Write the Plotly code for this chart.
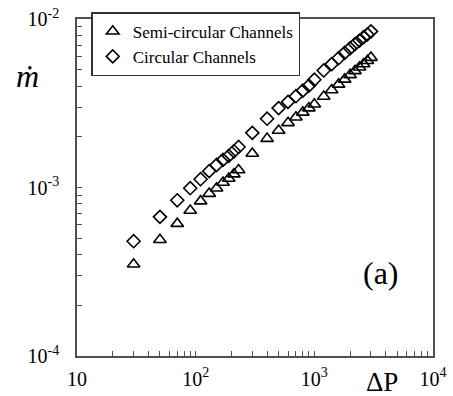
import plotly.graph_objects as go

# Pressure drop (x) shared by both series
dp = [30, 50, 70, 90, 110, 130, 150, 170, 190, 210, 230,
      300, 400, 500, 600, 700, 800, 900, 1000,
      1200, 1400, 1600, 1800, 2000, 2200, 2400, 2600, 2800, 3000]

semi_circular = [3.5e-4, 4.9e-4, 6.1e-4, 7.3e-4, 8.3e-4, 9.2e-4, 9.9e-4, 1.07e-3, 1.13e-3, 1.20e-3, 1.27e-3,
                 1.59e-3, 1.95e-3, 2.18e-3, 2.42e-3, 2.61e-3, 2.79e-3, 2.96e-3, 3.12e-3,
                 3.47e-3, 3.79e-3, 4.09e-3, 4.38e-3, 4.66e-3, 4.92e-3, 5.17e-3, 5.41e-3, 5.65e-3, 5.9e-3]

circular = [4.8e-4, 6.7e-4, 8.4e-4, 9.9e-4, 1.12e-3, 1.25e-3, 1.36e-3, 1.46e-3, 1.54e-3, 1.64e-3, 1.74e-3,
            2.11e-3, 2.56e-3, 2.96e-3, 3.22e-3, 3.48e-3, 3.76e-3, 4.02e-3, 4.36e-3,
            4.95e-3, 5.4e-3, 5.85e-3, 6.3e-3, 6.7e-3, 7.1e-3, 7.45e-3, 7.8e-3, 8.1e-3, 8.45e-3]

series_names = ["Semi-circular Channels", "Circular Channels"]

x_decades = [10, 100, 1000, 10000]
x_decade_labels = ["10", "10<sup>2</sup>", "10<sup>3</sup>", "10<sup>4</sup>"]
y_decades = [1e-4, 1e-3, 1e-2]
y_decade_labels = ["10<sup>-4</sup>", "10<sup>-3</sup>", "10<sup>-2</sup>"]

FONT = "Liberation Serif"
AXC = "#505050"


def log_ticks(decades, labels):
    vals, texts = [], []
    for i, d in enumerate(decades):
        vals.append(d)
        texts.append(labels[i])
        if i < len(decades) - 1:
            for k in range(2, 10):
                vals.append(d * k)
                texts.append("")
    return vals, texts


xv, xt = log_ticks(x_decades, x_decade_labels)
yv, yt = log_ticks(y_decades, y_decade_labels)

fig = go.Figure()
fig.add_trace(go.Scatter(
    x=dp, y=semi_circular, mode="markers", name=series_names[0],
    marker=dict(symbol="triangle-up-open", size=11, color="black", line=dict(width=1.6, color="black")),
))
fig.add_trace(go.Scatter(
    x=dp, y=circular, mode="markers", name=series_names[1],
    marker=dict(symbol="diamond-open", size=10, color="black", line=dict(width=1.6, color="black")),
))

fig.update_layout(
    width=453, height=396,
    margin=dict(l=77, r=20, t=16, b=40),
    paper_bgcolor="white", plot_bgcolor="white",
    font=dict(family=FONT, color="black", size=19),
    showlegend=True,
    legend=dict(
        x=0.04, y=1.02, xanchor="left", yanchor="top",
        bordercolor="#333333", borderwidth=1.5, bgcolor="white",
        font=dict(family=FONT, size=17, color="black"),
        itemwidth=30, tracegroupgap=0,
    ),
    xaxis=dict(
        type="log", range=[1, 4], automargin=False,
        tickmode="array", tickvals=xv, ticktext=xt,
        ticks="inside", ticklen=5, tickwidth=1.2, tickcolor=AXC,
        showline=True, linecolor=AXC, linewidth=1.5, mirror=True,
        showgrid=False, zeroline=False,
        ticklabelstandoff=4,
        tickfont=dict(family=FONT, size=20, color="black"),
    ),
    yaxis=dict(
        type="log", range=[-4, -2], automargin=False,
        tickmode="array", tickvals=yv, ticktext=yt,
        ticks="inside", ticklen=5, tickwidth=1.2, tickcolor=AXC,
        showline=True, linecolor=AXC, linewidth=1.5, mirror=True,
        showgrid=False, zeroline=False,
        ticklabelstandoff=12,
        tickfont=dict(family=FONT, size=20, color="black"),
    ),
    annotations=[
        dict(text="<i>ṁ</i>", xref="paper", yref="paper", x=-0.14, y=0.83,
             xanchor="center", yanchor="middle", showarrow=False,
             font=dict(family=FONT, size=32, color="black")),
        dict(text="ΔP", xref="paper", yref="paper", x=0.857, y=-0.076,
             xanchor="center", yanchor="middle", showarrow=False,
             font=dict(family=FONT, size=27, color="black")),
        dict(text="(a)", xref="paper", yref="paper", x=0.853, y=0.245,
             xanchor="center", yanchor="middle", showarrow=False,
             font=dict(family=FONT, size=32, color="black")),
    ],
)

fig.write_html("out.html", config={"displayModeBar": False},
               post_script="document.body.style.margin='0';")
